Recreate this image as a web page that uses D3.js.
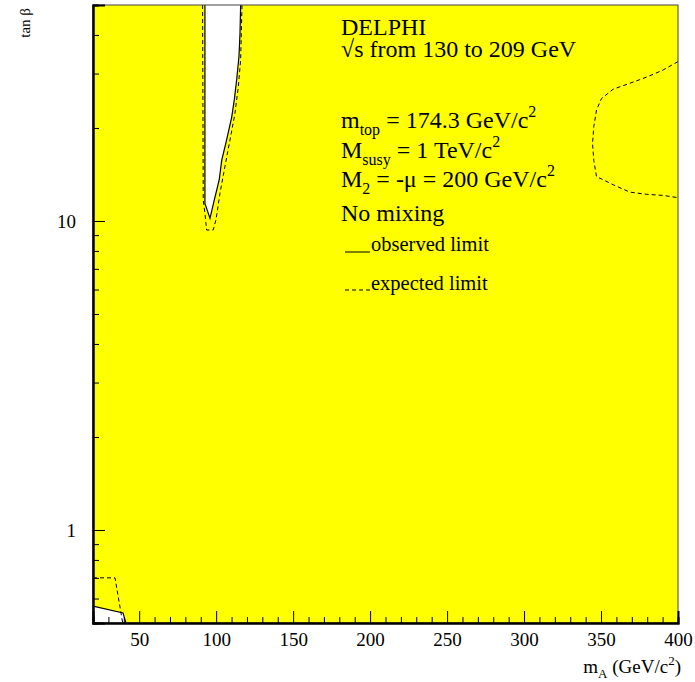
<!DOCTYPE html>
<html>
<head>
<meta charset="utf-8">
<title>delphi_mA_tanb</title>
<script src="https://cdn.jsdelivr.net/npm/d3@7"></script>
<style>
  body { margin: 0; background: #fff; }
  text { font-family: "Liberation Serif", "Times New Roman", serif; fill: #000; }
</style>
</head>
<body>
<svg id="mainsvg" width="695" height="682"></svg>
<script>
// excluded region near mA ~ 100, observed (solid) and expected (dashed)
const obsTopX = [92.7, 92.7, 96.0, 98.8, 102.0, 103.6, 106.8, 110.1, 111.8, 113.3, 114.8, 115.5, 115.9];
const obsTopY = [50, 11.4, 10.2, 11.7, 13.6, 15.7, 18.3, 21.7, 24.7, 28.6, 34.0, 40.6, 50];
const expTopX = [91.2, 91.6, 92.7, 93.8, 98.1, 99.9, 102.5, 105.7, 109.0, 112.2, 114.4, 115.9, 116.8];
const expTopY = [50, 11.7, 10.6, 9.35, 9.35, 10.1, 12.3, 15.0, 18.3, 22.3, 27.2, 33.2, 50];
// expected limit at high mA
const expRightX = [400, 390.3, 379.5, 368.7, 357.9, 350.3, 347.1, 345.3, 344.5, 345.3, 347.1, 351.4, 357.9, 368.7, 379.5, 390.3, 400];
const expRightY = [32.8, 30.8, 29.2, 27.9, 26.7, 24.9, 22.9, 20.2, 17.8, 15.7, 13.9, 13.6, 13.1, 12.4, 12.2, 12.1, 11.9];
// low mA, low tanb corner
const obsCornerX = [20, 39.5, 41.4, 20];
const obsCornerY = [0.567, 0.539, 0.5, 0.5];
const expCornerX = [20, 34.3, 39.3];
const expCornerY = [0.7, 0.7, 0.5];

const xMajor = [50, 100, 150, 200, 250, 300, 350, 400];
const xMinor = [30, 40, 60, 70, 80, 90, 110, 120, 130, 140, 160, 170, 180, 190, 210, 220, 230, 240,
                260, 270, 280, 290, 310, 320, 330, 340, 360, 370, 380, 390];
const yMajor = [1, 10];
const yMinor = [0.6, 0.7, 0.8, 0.9, 2, 3, 4, 5, 6, 7, 8, 9, 20, 30, 40];

const svg = d3.select('#mainsvg');
const margin = {left: 93, right: 17, top: 5, bottom: 59};
const W = 695, H = 682;
const innerW = W - margin.left - margin.right;
const innerH = H - margin.top - margin.bottom;

const x = d3.scaleLinear().domain([20, 400]).range([0, innerW]);
const y = d3.scaleLog().domain([0.5, 50]).range([innerH, 0]);

const g = svg.append('g').attr('transform', `translate(${margin.left},${margin.top})`);

g.append('clipPath').attr('id', 'clip')
  .append('rect').attr('width', innerW).attr('height', innerH);

const plot = g.append('g').attr('clip-path', 'url(#clip)');
plot.append('rect').attr('width', innerW).attr('height', innerH).attr('fill', '#ffff00');

const zip = (xs, ys) => xs.map((v, i) => [v, ys[i]]);
const line = d3.line().x(d => x(d[0])).y(d => y(d[1]));

// white (not excluded) regions
plot.append('path').datum(zip(obsTopX, obsTopY))
  .attr('d', d => line(d) + 'Z').attr('fill', '#fff');
plot.append('path').datum(zip(obsCornerX, obsCornerY))
  .attr('d', d => line(d) + 'Z').attr('fill', '#fff');

// observed limit
plot.append('path').datum(zip(obsTopX, obsTopY))
  .attr('d', line).attr('fill', 'none').attr('stroke', '#000').attr('stroke-width', 1.2);
plot.append('path').datum(zip(obsCornerX, obsCornerY).slice(0, 3))
  .attr('d', line).attr('fill', 'none').attr('stroke', '#000').attr('stroke-width', 1.2);

// expected limit
[zip(expTopX, expTopY), zip(expRightX, expRightY), zip(expCornerX, expCornerY)].forEach(c => {
  plot.append('path').datum(c)
    .attr('d', line).attr('fill', 'none').attr('stroke', '#000')
    .attr('stroke-width', 1).attr('stroke-dasharray', '4,3');
});

// frame
g.append('rect').attr('width', innerW).attr('height', innerH)
  .attr('fill', 'none').attr('stroke', '#444').attr('stroke-width', 1);

// axes, ticks inside
const xAxisMajor = d3.axisBottom(x).tickValues(xMajor).tickSize(-12).tickPadding(10).tickFormat(d3.format('d'));
const xAxisMinor = d3.axisBottom(x).tickValues(xMinor).tickSize(-6).tickFormat('');
const yAxisMajor = d3.axisLeft(y).tickValues(yMajor).tickSize(-12).tickPadding(17).tickFormat(d3.format('d'));
const yAxisMinor = d3.axisLeft(y).tickValues(yMinor).tickSize(-6).tickFormat('');

const styleAxis = sel => {
  sel.select('.domain').attr('stroke', '#000').attr('stroke-width', 2);
  sel.selectAll('.tick line').attr('stroke', '#000').attr('stroke-width', 1);
  sel.selectAll('.tick text').attr('font-size', 19).attr('font-family', '"Liberation Serif", serif');
};

g.append('g').attr('transform', `translate(0,${innerH})`).call(xAxisMinor).call(styleAxis);
g.append('g').attr('transform', `translate(0,${innerH})`).call(xAxisMajor).call(styleAxis);
g.append('g').call(yAxisMinor).call(styleAxis);
g.append('g').call(yAxisMajor).call(styleAxis);

// axis titles
const xt = svg.append('text').attr('x', 681).attr('y', 673).attr('text-anchor', 'end').attr('font-size', 19);
xt.append('tspan').text('m');
xt.append('tspan').attr('font-size', 13).attr('dy', 5).text('A');
xt.append('tspan').attr('dy', -5).text(' (GeV/c');
xt.append('tspan').attr('font-size', 13).attr('dy', -8).text('2');
xt.append('tspan').attr('dy', 8).text(')');

svg.append('text').attr('transform', 'translate(30,8) rotate(-90)')
  .attr('text-anchor', 'end').attr('font-size', 15).text('tan β');

// annotations
const tx = 341, big = 24, small = 16;
svg.append('text').attr('x', tx).attr('y', 35).attr('font-size', big).text('DELPHI');
svg.append('text').attr('x', tx).attr('y', 57).attr('font-size', big).text('√s from 130 to 209 GeV');

const l1 = svg.append('text').attr('x', tx).attr('y', 128).attr('font-size', big);
l1.append('tspan').text('m');
l1.append('tspan').attr('font-size', small).attr('dy', 7).text('top');
l1.append('tspan').attr('dy', -7).text(' = 174.3 GeV/c');
l1.append('tspan').attr('font-size', small).attr('dy', -11).text('2');

const l2 = svg.append('text').attr('x', tx).attr('y', 158).attr('font-size', big);
l2.append('tspan').text('M');
l2.append('tspan').attr('font-size', small).attr('dy', 7).text('susy');
l2.append('tspan').attr('dy', -7).text(' = 1 TeV/c');
l2.append('tspan').attr('font-size', small).attr('dy', -11).text('2');

const l3 = svg.append('text').attr('x', tx).attr('y', 187).attr('font-size', big);
l3.append('tspan').text('M');
l3.append('tspan').attr('font-size', small).attr('dy', 7).text('2');
l3.append('tspan').attr('dy', -7).text(' = -μ = 200 GeV/c');
l3.append('tspan').attr('font-size', small).attr('dy', -11).text('2');

svg.append('text').attr('x', tx).attr('y', 221).attr('font-size', big).text('No mixing');

// legend
svg.append('line').attr('x1', 345).attr('x2', 370).attr('y1', 252).attr('y2', 252)
  .attr('stroke', '#000').attr('stroke-width', 1);
svg.append('text').attr('x', 371).attr('y', 251).attr('font-size', 20.5).text('observed limit');
svg.append('line').attr('x1', 345).attr('x2', 370).attr('y1', 290).attr('y2', 290)
  .attr('stroke', '#000').attr('stroke-width', 1).attr('stroke-dasharray', '4,3');
svg.append('text').attr('x', 371).attr('y', 290).attr('font-size', 20.5).text('expected limit');
</script>
</body>
</html>
